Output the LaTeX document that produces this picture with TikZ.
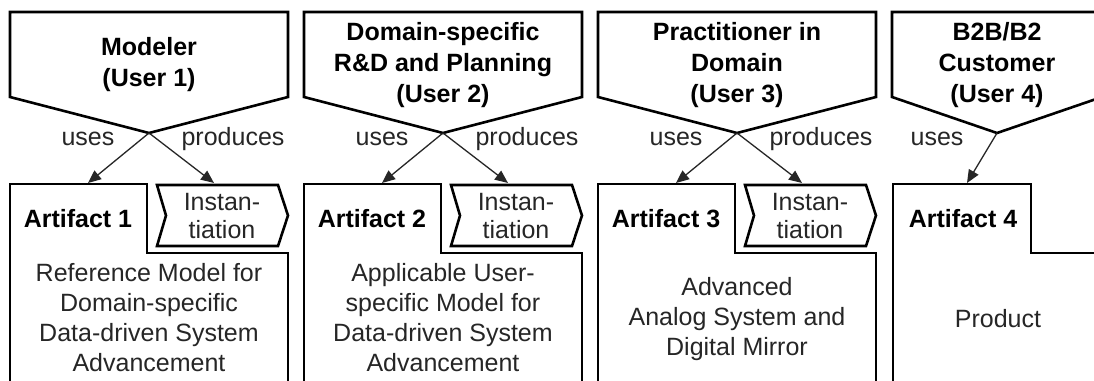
\documentclass[tikz,border=0pt]{standalone}
\usepackage{fontspec}
\setmainfont{Liberation Sans}
\usetikzlibrary{arrows.meta}
\definecolor{ink}{HTML}{262626}
\begin{document}
\begin{tikzpicture}[x=1pt,y=-1pt,
  outline/.style={draw=black, line width=2.6pt, line join=miter, fill=white},
  title/.style={font=\bfseries\fontsize{25}{31}\selectfont, align=center, text=black, inner sep=0pt},
  body/.style={font=\fontsize{25}{30}\selectfont, align=center, text=ink, inner sep=0pt},
  chevtext/.style={font=\fontsize{25}{28}\selectfont, align=center, text=ink, inner sep=0pt},
  tablabel/.style={font=\bfseries\fontsize{25}{30}\selectfont, text=black, inner sep=0pt},
  edgelabel/.style={font=\fontsize{25}{30}\selectfont, text=ink, anchor=base, inner sep=0pt},
  link/.style={draw=ink, line width=1.3pt, -{Triangle[length=13pt,width=11pt]}}
]
\clip (0,0) rectangle (1094,380);
\fill[white] (0,0) rectangle (1094,380);

% ---- column 1: modeler ----
\begin{scope}[shift={(10,0)}]
  \draw[outline] (0,12) -- (278,12) -- (278,97) -- (139,133) -- (0,97) -- cycle;
  \node[title] (user1) at (139,65) {Modeler\\(User 1)};
  \coordinate (tip1) at (139,133);
  \draw[outline] (0,390) -- (0,184) -- (137,184) -- (137,253) -- (278,253) -- (278,390);
  \draw[outline] (147,185) -- (268,185) -- (278,215.5) -- (268,246) -- (147,246) -- (156,215.5) -- cycle;
  \node[tablabel] (art1) at (68,219) {Artifact 1};
  \node[chevtext] (inst1) at (212,216) {Instan-\\tiation};
  \node[body] (desc1) at (139,318) {Reference Model for\\Domain-specific\\Data-driven System\\Advancement};
  \coordinate (use1) at (78,183);
  \coordinate (prod1) at (204,183);
  \draw[link] (tip1) -- (use1);
  \draw[link] (tip1) -- (prod1);
  \node[edgelabel] (usel1) at (78,145) {uses};
  \node[edgelabel] (prodl1) at (223,145) {produces};
\end{scope}

% ---- column 2: domain-specific R&D ----
\begin{scope}[shift={(304,0)}]
  \draw[outline] (0,12) -- (278,12) -- (278,97) -- (139,133) -- (0,97) -- cycle;
  \node[title] (user2) at (139,65) {Domain-specific\\R\&D and Planning\\(User 2)};
  \coordinate (tip2) at (139,133);
  \draw[outline] (0,390) -- (0,184) -- (137,184) -- (137,253) -- (278,253) -- (278,390);
  \draw[outline] (147,185) -- (268,185) -- (278,215.5) -- (268,246) -- (147,246) -- (156,215.5) -- cycle;
  \node[tablabel] (art2) at (68,219) {Artifact 2};
  \node[chevtext] (inst2) at (212,216) {Instan-\\tiation};
  \node[body] (desc2) at (139,318) {Applicable User-\\specific Model for\\Data-driven System\\Advancement};
  \coordinate (use2) at (78,183);
  \coordinate (prod2) at (204,183);
  \draw[link] (tip2) -- (use2);
  \draw[link] (tip2) -- (prod2);
  \node[edgelabel] (usel2) at (78,145) {uses};
  \node[edgelabel] (prodl2) at (223,145) {produces};
\end{scope}

% ---- column 3: practitioner ----
\begin{scope}[shift={(598,0)}]
  \draw[outline] (0,12) -- (278,12) -- (278,97) -- (139,133) -- (0,97) -- cycle;
  \node[title] (user3) at (139,65) {Practitioner in\\Domain\\(User 3)};
  \coordinate (tip3) at (139,133);
  \draw[outline] (0,390) -- (0,184) -- (137,184) -- (137,253) -- (278,253) -- (278,390);
  \draw[outline] (147,185) -- (268,185) -- (278,215.5) -- (268,246) -- (147,246) -- (156,215.5) -- cycle;
  \node[tablabel] (art3) at (68,219) {Artifact 3};
  \node[chevtext] (inst3) at (212,216) {Instan-\\tiation};
  \node[body] (desc3) at (139,319) {Advanced\\Analog System and\\Digital Mirror};
  \coordinate (use3) at (78,183);
  \coordinate (prod3) at (204,183);
  \draw[link] (tip3) -- (use3);
  \draw[link] (tip3) -- (prod3);
  \node[edgelabel] (usel3) at (78,145) {uses};
  \node[edgelabel] (prodl3) at (223,145) {produces};
\end{scope}

% ---- column 4: customer ----
\begin{scope}[shift={(892,0)}]
  \draw[outline] (0,12) -- (210,12) -- (210,97) -- (105,133) -- (0,97) -- cycle;
  \node[title] (user4) at (105,65) {B2B/B2\\Customer\\(User 4)};
  \coordinate (tip4) at (105,133);
  \draw[outline] (1,390) -- (1,184) -- (139,184) -- (139,253) -- (212,253) -- (212,390);
  \node[tablabel] (art4) at (71,219) {Artifact 4};
  \node[body] (desc4) at (106,319) {Product};
  \coordinate (use4) at (75,183);
  \draw[link] (tip4) -- (use4);
  \node[edgelabel] (usel4) at (45,145) {uses};
\end{scope}
\end{tikzpicture}
\end{document}
